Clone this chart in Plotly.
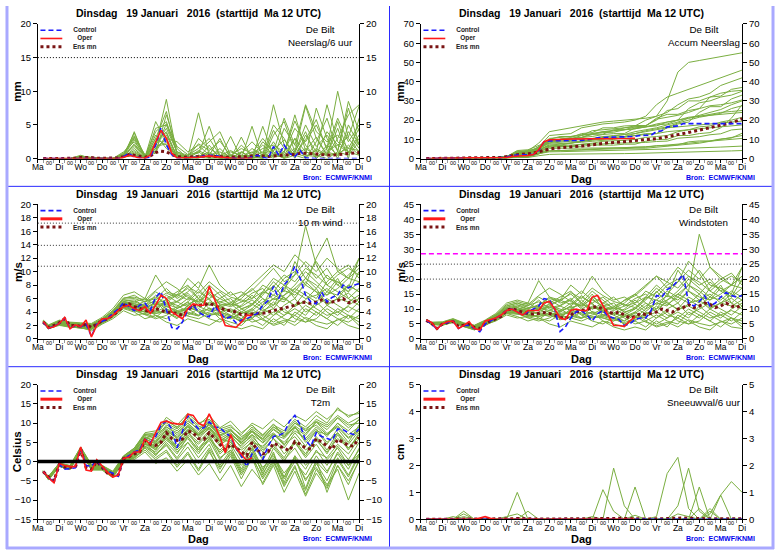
import plotly.graph_objects as go

W, H = 778, 554
FONT = 'Liberation Sans, Arial, sans-serif'

# time axis: forecast hours after Ma 12 UTC
HOURS = list(range(6, 361, 6))
OPER_HOURS = HOURS[:40]
MEMBER_HOURS = [6] + list(range(12, 361, 12))
DAY_TICKS = list(range(0, 361, 24))
DAY_NAMES = ['Ma', 'Di', 'Wo', 'Do', 'Vr', 'Za', 'Zo', 'Ma', 'Di', 'Wo', 'Do', 'Vr', 'Za', 'Zo', 'Ma', 'Di']
MIDNIGHTS = list(range(12, 360, 24))
SIX_HOURLY = list(range(6, 360, 12))

TITLE = 'Dinsdag\u00a0\u00a0 19 Januari\u00a0\u00a0 2016\u00a0 (starttijd\u00a0 Ma 12 UTC)'

# ---------------- Neerslag/6 uur ----------------
PRECIP_CONTROL = [0, 0, 0, 0, 0, 0, 0, 0.1, 0.1, 0.1, 0, 0, 0, 0, 0, 0.3, 0.8, 0.2, 0.1, 0.1,
                  0.2, 2.0, 4.6, 2.0, 0.6, 0.1, 0.1, 0.1, 0.2, 0.2, 0.4, 0.5, 0.5, 0.3, 0.1, 0.1, 0, 0, 0, 0.2,
                  0.5, 0.2, 0, 1.8, 0.5, 2.0, 0.8, 0.3, 1.2, 0.1, 0, 0, 0, 0, 0, 0, 0, 0, 0, 0]
PRECIP_OPER = [0, 0, 0, 0, 0, 0, 0, 0.1, 0.1, 0.1, 0, 0, 0, 0, 0, 0.2, 0.5, 0.3, 0.1, 0.1,
               0.5, 2.5, 4.2, 3.0, 0.8, 0.1, 0.1, 0.1, 0.1, 0.2, 0.3, 0.4, 0.3, 0.2, 0.1, 0.1, 0, 0, 0, 0.1]
PRECIP_MEAN = [0, 0, 0, 0, 0, 0, 0.05, 0.15, 0.2, 0.15, 0.05, 0.05, 0.05, 0.05, 0.1, 0.3, 0.6, 0.5, 0.3, 0.2,
               0.4, 0.9, 1.1, 1.0, 0.6, 0.3, 0.2, 0.2, 0.3, 0.3, 0.4, 0.4, 0.4, 0.3, 0.2, 0.2, 0.2, 0.2, 0.3, 0.4,
               0.5, 0.4, 0.3, 0.4, 0.5, 0.5, 0.6, 0.6, 0.8, 0.8, 0.8, 0.7, 0.6, 0.5, 0.5, 0.6, 0.7, 0.8, 0.8, 0.9]
PRECIP_MEMBERS = [
    [0, 0, 0, 0, 0.3, 0, 0, 0, 0.5, 3.8, 0.3, 2.0, 8.8, 0.5, 0, 0.3, 1.0, 0, 0.2, 0, 0.5, 0, 1.5, 0.5, 3.0, 1.0, 0.5, 4.0, 2.0, 1.0, 3.5],
    [0, 0, 0, 0, 0.1, 0, 0, 0, 0.2, 1.5, 0.1, 4.5, 5.0, 1.0, 0.2, 6.8, 0.5, 0.2, 0, 1.0, 0, 0.5, 8.0, 2.0, 0.5, 0, 2.5, 6.0, 1.0, 8.5, 4.0],
    [0, 0, 0, 0, 0.4, 0.1, 0, 0, 1.0, 2.5, 0.5, 1.0, 3.5, 0.3, 0.5, 1.5, 3.0, 0.5, 0, 3.2, 0, 4.8, 0.5, 1.0, 5.6, 2.0, 0, 1.5, 10.0, 3.0, 1.0],
    [0, 0, 0, 0, 0.2, 0, 0, 0, 0.3, 0.8, 0.2, 5.5, 2.5, 0.2, 0, 0.5, 0.2, 1.5, 0, 0, 4.8, 0, 2.5, 0, 1.0, 7.8, 3.0, 0.5, 4.5, 0, 6.0],
    [0, 0, 0, 0, 0, 0, 0, 0, 0.1, 4.0, 0, 3.0, 2.0, 0.5, 0.3, 0, 2.0, 0, 1.0, 0.5, 0.3, 1.0, 0, 4.5, 2.0, 0.5, 7.5, 3.0, 0, 5.0, 2.0],
    [0, 0, 0, 0, 0.3, 0.2, 0, 0, 0.6, 2.0, 0.4, 0.8, 6.5, 1.5, 0, 1.0, 0, 0.2, 3.3, 0, 1.5, 0.5, 5.0, 3.0, 0, 3.5, 1.0, 8.0, 2.5, 1.0, 0.5],
    [0, 0, 0, 0, 0.1, 0, 0, 0, 0.2, 1.0, 0.1, 2.5, 4.0, 0.2, 0.2, 0, 0.8, 0, 0, 0.5, 0, 2.5, 1.0, 0, 3.0, 0, 1.5, 0.5, 3.0, 6.5, 8.0],
    [0, 0, 0, 0, 0.2, 0.1, 0, 0, 0.8, 3.0, 0.6, 1.5, 3.0, 2.5, 1.0, 2.0, 0.5, 3.0, 0, 1.0, 0.2, 0, 3.5, 5.5, 1.0, 4.0, 0, 2.0, 0.5, 4.0, 1.5],
    [0, 0, 0, 0, 0.5, 0, 0, 0, 0.4, 1.8, 0.2, 3.5, 1.5, 0.3, 0, 0.5, 0.3, 0, 0.5, 0, 0, 0.3, 0.5, 0.2, 1.5, 0.5, 0.3, 1.0, 0.5, 2.0, 0.5],
    [0, 0, 0, 0, 0.2, 0, 0, 0, 0.3, 2.2, 0.3, 4.0, 5.5, 0.8, 0.2, 3.0, 1.5, 0.5, 0.2, 2.0, 0.5, 1.5, 2.0, 1.0, 4.5, 2.5, 5.0, 1.5, 6.0, 2.5, 5.0],
    [0, 0, 0, 0, 0.1, 0, 0, 0, 0.2, 0.5, 0, 1.5, 3.0, 0.1, 0, 0.2, 0, 0, 0, 0, 0.3, 0, 0.8, 0, 0.5, 1.5, 0.5, 0, 1.0, 0.5, 2.5],
    [0, 0, 0, 0, 0.3, 0.1, 0, 0, 0.6, 3.2, 0.4, 2.0, 4.5, 1.0, 0.5, 1.0, 2.5, 4.0, 0.5, 1.5, 0.8, 3.0, 1.0, 6.0, 2.0, 8.0, 4.0, 2.5, 3.5, 1.5, 4.5],
    [0, 0, 0, 0, 0.2, 0, 0, 0, 0.4, 2.8, 0.2, 3.0, 7.0, 0.6, 0.1, 1.2, 0.4, 1.0, 0.2, 0.8, 2.5, 0.8, 1.2, 2.8, 0.8, 5.0, 1.8, 3.5, 1.2, 7.5, 2.0],
    [0, 0, 0, 0, 0.1, 0, 0, 0, 0.3, 1.2, 0.2, 2.2, 3.8, 0.4, 0.3, 2.2, 1.2, 2.6, 0.4, 0.2, 0.6, 2.0, 0.6, 0.8, 6.5, 1.2, 3.2, 0.6, 5.5, 0.8, 3.0],
    [0, 0, 0, 0, 0.3, 0.1, 0, 0, 0.7, 3.4, 0.5, 1.2, 5.2, 1.8, 0.6, 0.8, 4.8, 0.4, 1.2, 0.3, 1.0, 0.2, 4.2, 1.5, 0.6, 2.8, 5.8, 1.2, 2.0, 3.2, 7.8],
    [0, 0, 0, 0, 0.2, 0, 0, 0, 0.2, 0.6, 0.1, 1.8, 2.2, 0.2, 0, 0.4, 0.2, 0.5, 0, 0.2, 0, 0.6, 0.3, 0.4, 0.8, 0.3, 1.2, 0.4, 0.8, 1.5, 1.2],
]

# ---------------- Accum Neerslag ----------------
ACCUM_CONTROL = [0, 0, 0, 0, 0, 0, 0.1, 0.3, 0.4, 0.4, 0.5, 0.5, 0.5, 0.5, 0.5, 0.8, 1.6, 1.8, 1.9, 2.0,
                 2.2, 4.2, 8.8, 9.2, 9.2, 9.2, 9.2, 9.3, 9.4, 9.5, 9.8, 10.5, 10.8, 11.0, 11.2, 11.3, 11.3, 11.3, 11.4, 11.6,
                 12.0, 12.2, 12.2, 14.0, 14.5, 16.5, 16.8, 17.0, 18.2, 18.2, 18.2, 18.2, 18.2, 18.2, 18.2, 18.2, 18.2, 18.2, 18.2, 18.2]
ACCUM_OPER = [0, 0, 0, 0, 0, 0, 0.1, 0.3, 0.4, 0.4, 0.4, 0.4, 0.4, 0.4, 0.4, 0.6, 1.1, 1.4, 1.5, 1.6,
              2.1, 4.6, 8.8, 9.8, 10.0, 10.1, 10.1, 10.2, 10.2, 10.3, 10.4, 10.4, 10.5, 10.5, 10.5, 10.5, 10.5, 10.5, 10.5, 10.6]
ACCUM_MEAN = [0, 0, 0, 0, 0, 0, 0.1, 0.3, 0.4, 0.5, 0.5, 0.5, 0.5, 0.6, 0.6, 0.9, 1.5, 2.0, 2.2, 2.4,
              2.8, 3.6, 4.5, 5.0, 5.4, 5.6, 5.8, 6.0, 6.2, 6.5, 6.8, 7.2, 7.6, 7.9, 8.2, 8.4, 8.6, 8.8, 9.0, 9.3,
              9.6, 9.8, 10.0, 10.3, 10.8, 11.3, 11.8, 12.4, 13.0, 13.6, 14.2, 14.8, 15.4, 16.0, 16.6, 17.2, 17.8, 18.6, 19.6, 20.8]
ACCUM_MEMBERS = [
    [0, 0, 0, 0, 0.4, 0.5, 0.5, 0.5, 1.0, 3.0, 4.0, 8.0, 14.0, 15.0, 16.0, 17.0, 18.0, 19.0, 19.5, 20.0, 20.5, 21.0, 22.0, 30.0, 45.0, 50.0, 51.0, 52.0, 53.0, 54.0, 55.0],
    [0, 0, 0, 0, 0.3, 0.4, 0.4, 0.4, 0.8, 2.5, 3.0, 6.0, 12.0, 12.5, 13.0, 16.0, 17.0, 18.0, 18.5, 19.0, 20.0, 22.0, 28.0, 32.0, 34.0, 36.0, 38.0, 40.0, 42.0, 44.0, 46.0],
    [0, 0, 0, 0, 0.5, 0.6, 0.6, 0.6, 1.2, 3.5, 4.0, 5.0, 9.0, 10.0, 10.5, 11.0, 13.0, 14.0, 14.5, 16.0, 17.0, 20.0, 22.0, 24.0, 28.0, 31.0, 32.0, 34.0, 38.0, 40.0, 42.0],
    [0, 0, 0, 0, 0.2, 0.3, 0.3, 0.3, 0.6, 1.0, 1.5, 6.0, 9.0, 9.5, 10.0, 11.0, 11.5, 12.5, 13.0, 13.0, 16.0, 16.5, 18.0, 19.0, 20.0, 26.0, 29.0, 30.0, 32.0, 33.0, 35.0],
    [0, 0, 0, 0, 0.1, 0.1, 0.1, 0.1, 0.3, 3.5, 3.5, 6.0, 8.0, 8.5, 9.0, 9.0, 10.0, 10.0, 11.0, 11.5, 12.0, 13.0, 13.0, 16.0, 18.0, 19.0, 24.0, 27.0, 27.0, 31.0, 33.0],
    [0, 0, 0, 0, 0.4, 0.6, 0.6, 0.6, 1.2, 3.0, 3.5, 4.5, 10.0, 11.5, 11.5, 12.5, 12.5, 12.7, 15.0, 15.0, 16.5, 17.0, 21.0, 23.0, 23.0, 25.0, 26.0, 32.0, 34.0, 35.0, 35.5],
    [0, 0, 0, 0, 0.1, 0.1, 0.1, 0.1, 0.3, 1.0, 1.2, 3.0, 6.0, 6.2, 6.4, 6.4, 7.0, 7.0, 7.0, 7.5, 7.5, 9.0, 10.0, 10.0, 12.0, 12.0, 13.0, 13.5, 16.0, 21.0, 28.0],
    [0, 0, 0, 0, 0.3, 0.4, 0.4, 0.4, 1.0, 3.0, 3.5, 5.0, 8.0, 10.0, 11.0, 13.0, 13.5, 16.0, 16.0, 17.0, 17.2, 17.2, 20.0, 25.0, 26.0, 30.0, 30.0, 32.0, 32.5, 36.0, 37.0],
    [0, 0, 0, 0, 0.5, 0.5, 0.5, 0.5, 0.9, 2.0, 2.2, 5.0, 6.5, 6.8, 6.8, 7.3, 7.6, 7.6, 8.1, 8.1, 8.1, 8.4, 8.9, 9.1, 10.6, 11.1, 11.4, 12.4, 12.9, 14.9, 15.4],
    [0, 0, 0, 0, 0.2, 0.2, 0.2, 0.2, 0.5, 2.5, 2.8, 6.0, 9.5, 10.0, 10.2, 12.0, 13.0, 13.5, 13.7, 15.0, 15.5, 16.5, 17.5, 18.0, 20.0, 21.0, 22.0, 23.0, 24.0, 24.5, 25.0],
    [0, 0, 0, 0, 0.1, 0.1, 0.1, 0.1, 0.3, 0.8, 0.8, 2.3, 5.3, 5.4, 5.4, 5.6, 5.6, 5.6, 5.6, 5.6, 5.9, 5.9, 6.7, 6.7, 7.2, 8.7, 9.2, 9.2, 10.2, 10.7, 13.2],
    [0, 0, 0, 0, 0.3, 0.4, 0.4, 0.4, 1.0, 4.2, 4.6, 6.6, 9.0, 10.0, 10.5, 11.0, 12.5, 14.0, 14.5, 15.0, 15.5, 16.5, 17.0, 19.0, 20.0, 21.5, 22.0, 22.5, 23.0, 23.5, 24.0],
    [0, 0, 0, 0, 0.2, 0.2, 0.2, 0.2, 0.4, 1.5, 1.6, 2.5, 3.5, 3.6, 3.7, 3.8, 4.0, 4.0, 4.2, 4.2, 4.3, 4.5, 4.8, 5.0, 5.2, 5.5, 5.6, 5.8, 6.0, 6.2, 6.5],
    [0, 0, 0, 0, 0.2, 0.3, 0.3, 0.3, 0.5, 1.2, 1.4, 3.0, 4.0, 4.2, 4.3, 4.5, 4.8, 5.0, 5.0, 5.2, 5.4, 5.4, 6.0, 6.5, 7.0, 7.5, 8.0, 9.0, 10.0, 11.0, 12.0],
    [0, 0, 0, 0, 0.1, 0.1, 0.1, 0.1, 0.2, 0.5, 0.6, 1.5, 2.2, 2.3, 2.3, 2.4, 2.5, 2.5, 2.6, 2.6, 2.7, 2.8, 3.0, 3.1, 3.2, 3.4, 3.5, 3.6, 3.8, 4.0, 4.2],
    [0, 0, 0, 0, 0.3, 0.4, 0.4, 0.4, 0.8, 2.8, 3.0, 4.5, 7.0, 7.5, 8.0, 9.0, 10.0, 11.0, 12.0, 12.5, 13.0, 14.0, 15.0, 16.0, 16.5, 17.0, 17.5, 18.0, 18.5, 19.0, 19.5],
    [0, 0, 0, 0, 0.3, 0.3, 0.3, 0.3, 0.7, 2.5, 2.8, 5.0, 8.5, 9.0, 9.2, 10.0, 10.5, 11.5, 11.8, 12.5, 14.0, 15.0, 16.0, 17.5, 19.0, 21.0, 22.5, 24.0, 25.5, 28.0, 30.0],
    [0, 0, 0, 0, 0.2, 0.2, 0.2, 0.2, 0.5, 1.5, 1.7, 3.5, 6.0, 6.3, 6.5, 7.5, 8.0, 9.0, 9.2, 9.5, 10.0, 11.0, 11.5, 12.0, 14.0, 15.0, 16.5, 17.0, 19.0, 20.0, 21.5],
    [0, 0, 0, 0, 0.4, 0.5, 0.5, 0.5, 1.1, 3.8, 4.2, 5.5, 10.5, 11.0, 11.5, 12.0, 14.5, 15.0, 15.5, 15.8, 16.5, 17.0, 20.5, 21.5, 22.5, 24.0, 26.0, 27.5, 28.0, 29.0, 30.5],
    [0, 0, 0, 0, 0.1, 0.1, 0.1, 0.1, 0.3, 0.9, 1.0, 2.5, 4.0, 4.2, 4.3, 4.6, 5.0, 5.2, 5.3, 5.5, 5.8, 6.2, 6.6, 7.0, 7.6, 8.0, 8.6, 9.0, 9.6, 10.0, 10.5],
    [0, 0, 0, 0, 0.2, 0.2, 0.2, 0.2, 0.6, 2.0, 2.2, 4.0, 7.5, 7.8, 8.0, 8.5, 9.0, 9.5, 10.0, 11.0, 12.0, 12.5, 13.0, 14.0, 14.5, 15.0, 15.5, 16.0, 16.5, 17.0, 17.5],
    [0, 0, 0, 0, 0.3, 0.3, 0.3, 0.3, 0.8, 3.0, 3.2, 4.0, 6.5, 7.0, 8.0, 9.0, 9.5, 10.5, 11.0, 11.5, 13.0, 14.5, 15.5, 16.5, 18.5, 20.0, 21.5, 22.5, 23.5, 26.0, 27.5],
]

# ---------------- 10 m wind ----------------
WIND_CONTROL = [2.5, 1.6, 1.9, 2.3, 3.1, 1.6, 2.0, 1.8, 2.2, 0.4, 2.2, 2.6, 3.0, 3.8, 4.4, 5.4, 4.8, 4.2, 5.0, 5.3,
                4.3, 6.2, 7.0, 4.2, 1.7, 1.5, 2.5, 4.3, 5.0, 4.0, 3.5, 3.3, 4.8, 4.0, 3.0, 3.3, 2.4, 2.8, 3.0, 3.4,
                3.8, 5.0, 5.7, 7.8, 6.0, 8.0, 9.0, 10.8, 9.0, 6.5, 5.5, 5.2, 7.0, 5.5, 6.2, 6.5, 8.0, 7.6, 8.0, 8.2]
WIND_OPER = [2.6, 1.6, 1.8, 2.3, 3.2, 1.5, 2.1, 1.8, 2.8, 0.3, 2.0, 3.0, 3.0, 3.5, 4.2, 4.8, 5.0, 4.5, 4.2, 4.8,
             3.8, 5.0, 6.5, 6.0, 4.0, 3.5, 3.0, 4.5, 5.2, 5.0, 5.0, 7.8, 6.0, 4.0, 2.0, 1.8, 1.7, 2.5, 3.5, 3.5]
WIND_MEAN = [2.5, 1.7, 2.0, 2.4, 3.0, 2.0, 2.0, 1.9, 2.2, 1.7, 2.2, 2.7, 3.0, 3.6, 4.1, 5.0, 5.2, 4.8, 4.5, 4.3,
             4.0, 4.5, 4.2, 4.0, 3.9, 3.8, 3.5, 4.3, 5.0, 5.0, 5.0, 5.3, 5.0, 4.6, 4.3, 4.2, 4.0, 3.6, 3.6, 3.7,
             3.8, 3.8, 4.0, 4.2, 4.5, 4.7, 4.8, 5.0, 5.5, 5.4, 5.3, 5.5, 5.8, 5.5, 5.5, 5.7, 6.0, 5.4, 5.5, 6.0]
WIND_MEMBERS = [
    [2.6, 1.8, 2.5, 2.2, 2.0, 1.8, 2.8, 3.8, 5.5, 5.0, 4.5, 5.5, 4.0, 3.0, 5.0, 6.0, 4.5, 3.5, 3.0, 4.0, 5.0, 7.0, 9.0, 8.0, 6.0, 8.5, 7.0, 5.0, 6.0, 8.0, 7.0],
    [2.4, 1.5, 2.2, 1.9, 1.7, 1.5, 2.4, 3.4, 4.8, 4.2, 3.5, 3.0, 3.5, 4.5, 5.5, 4.0, 3.0, 2.5, 3.5, 2.5, 3.0, 2.0, 3.5, 4.5, 3.0, 2.5, 4.0, 3.0, 2.0, 3.5, 2.5],
    [2.7, 2.0, 2.7, 2.4, 2.3, 2.2, 3.0, 4.2, 6.0, 6.5, 5.5, 6.0, 7.5, 6.0, 7.0, 8.5, 6.5, 5.5, 5.0, 6.5, 8.0, 9.5, 11.0, 10.0, 12.5, 11.0, 9.0, 10.5, 8.0, 9.5, 11.0],
    [2.5, 1.7, 2.3, 2.1, 1.8, 1.6, 2.6, 3.6, 5.0, 4.5, 4.0, 4.5, 5.5, 5.0, 4.0, 3.5, 5.5, 4.5, 4.0, 3.0, 4.5, 6.0, 5.0, 7.5, 9.5, 16.8, 11.0, 8.0, 7.0, 6.0, 5.0],
    [2.3, 1.6, 2.0, 1.8, 1.6, 1.4, 2.3, 3.2, 4.5, 4.0, 3.0, 3.5, 2.5, 2.0, 3.0, 2.5, 2.0, 3.0, 2.0, 1.5, 2.0, 1.5, 3.0, 2.0, 4.0, 3.0, 2.0, 1.5, 3.0, 2.0, 1.5],
    [2.6, 1.9, 2.6, 2.3, 2.1, 2.0, 2.9, 4.0, 5.8, 5.5, 5.0, 4.0, 6.0, 7.0, 8.0, 6.0, 5.0, 6.0, 7.0, 5.5, 6.0, 8.0, 7.0, 9.0, 10.0, 8.0, 12.0, 15.0, 10.0, 9.0, 8.5],
    [2.5, 1.7, 2.4, 2.0, 1.9, 1.8, 2.7, 3.7, 5.2, 4.8, 5.0, 6.5, 5.0, 4.0, 3.5, 4.5, 3.5, 4.0, 4.5, 3.5, 2.5, 3.0, 4.0, 3.0, 2.5, 4.5, 3.5, 5.0, 4.0, 3.0, 4.5],
    [2.8, 2.1, 2.8, 2.5, 2.4, 2.3, 3.2, 4.5, 6.5, 7.0, 6.0, 9.5, 7.0, 6.5, 9.0, 7.5, 11.0, 8.0, 6.5, 7.0, 6.0, 7.0, 6.5, 8.0, 7.0, 9.0, 8.0, 6.5, 7.5, 9.0, 12.0],
    [2.4, 1.6, 2.1, 1.7, 1.7, 1.2, 2.2, 3.0, 4.2, 3.5, 3.8, 3.2, 4.5, 3.5, 5.0, 4.0, 4.5, 3.0, 2.5, 2.0, 3.5, 5.0, 6.0, 5.5, 7.5, 6.5, 5.5, 7.0, 9.0, 6.0, 7.5],
    [2.6, 1.8, 2.5, 2.1, 2.0, 1.7, 2.8, 3.9, 5.6, 5.2, 4.2, 5.0, 6.5, 5.5, 6.5, 5.0, 6.0, 7.0, 5.5, 4.5, 3.5, 4.0, 5.5, 4.0, 3.5, 2.5, 3.0, 4.5, 3.5, 5.0, 6.0],
    [2.5, 1.8, 2.4, 2.2, 1.9, 1.9, 2.7, 3.5, 5.0, 4.6, 4.8, 4.2, 3.8, 4.8, 6.0, 5.5, 7.5, 5.0, 4.0, 5.0, 6.5, 5.0, 8.0, 6.0, 5.0, 7.0, 6.0, 8.5, 10.0, 11.0, 9.0],
    [2.7, 1.9, 2.6, 2.3, 2.2, 2.1, 2.9, 4.1, 5.9, 6.0, 5.5, 7.0, 6.0, 4.5, 5.5, 7.0, 6.0, 4.0, 3.5, 3.0, 4.0, 3.5, 2.5, 3.5, 4.5, 3.5, 5.5, 4.0, 3.0, 2.5, 3.5],
    [2.3, 1.5, 2.1, 1.8, 1.6, 1.5, 2.4, 3.3, 4.6, 4.2, 4.0, 3.8, 4.2, 3.8, 3.5, 3.0, 3.8, 3.5, 3.0, 3.8, 4.5, 3.0, 2.0, 2.5, 3.5, 5.0, 4.0, 3.0, 4.5, 3.5, 2.0],
    [2.6, 1.8, 2.5, 2.2, 2.0, 1.9, 2.8, 3.9, 5.4, 5.0, 4.6, 5.2, 4.8, 5.5, 4.8, 6.5, 5.0, 5.5, 6.0, 4.5, 5.0, 6.5, 8.5, 7.0, 11.5, 9.0, 7.5, 9.5, 8.0, 7.0, 8.5],
    [2.4, 1.7, 2.3, 2.0, 1.8, 1.6, 2.5, 3.5, 4.9, 4.3, 4.5, 3.5, 3.0, 4.0, 4.5, 3.5, 4.0, 4.5, 3.5, 2.5, 3.0, 4.5, 3.5, 5.0, 6.0, 4.0, 5.0, 6.0, 5.0, 4.0, 5.5],
    [2.5, 1.8, 2.4, 2.1, 2.0, 1.8, 2.7, 3.8, 5.3, 5.5, 6.0, 5.0, 5.5, 6.5, 7.5, 6.0, 8.0, 6.5, 5.0, 6.0, 7.5, 6.0, 4.5, 6.5, 8.0, 10.0, 8.5, 7.0, 6.5, 8.0, 7.0],
    [2.5, 1.7, 2.3, 2.0, 1.9, 1.7, 2.6, 3.7, 5.1, 4.7, 4.3, 4.8, 5.2, 4.6, 5.2, 5.8, 5.2, 4.8, 4.2, 3.8, 4.2, 5.5, 6.5, 5.8, 7.0, 6.0, 6.5, 7.5, 6.0, 5.5, 6.5],
    [2.6, 1.9, 2.6, 2.3, 2.1, 2.0, 2.9, 4.0, 5.6, 5.8, 4.8, 5.8, 6.8, 6.2, 7.8, 6.8, 8.5, 7.2, 6.2, 5.8, 5.2, 6.8, 7.8, 9.5, 8.5, 10.5, 9.5, 8.0, 9.5, 10.5, 9.5],
    [2.4, 1.6, 2.2, 1.8, 1.8, 1.5, 2.4, 3.4, 4.7, 4.4, 3.6, 4.0, 4.8, 4.2, 4.6, 4.2, 3.5, 3.8, 3.2, 2.8, 3.2, 3.8, 4.5, 3.5, 5.0, 5.5, 4.5, 3.5, 4.0, 4.8, 4.0],
    [2.7, 2.0, 2.7, 2.4, 2.2, 2.1, 3.0, 4.2, 6.1, 6.2, 5.8, 7.2, 8.5, 7.5, 6.2, 5.5, 6.8, 5.2, 4.8, 5.5, 6.8, 7.5, 5.8, 6.5, 7.5, 9.0, 11.5, 9.0, 8.5, 7.0, 10.0],
    [2.5, 1.8, 2.4, 2.1, 1.9, 1.8, 2.7, 3.8, 5.3, 5.0, 5.2, 5.6, 4.4, 4.0, 4.4, 4.8, 4.2, 5.0, 5.2, 4.0, 3.8, 2.8, 2.2, 2.8, 2.0, 3.2, 2.6, 2.2, 2.8, 3.5, 3.0],
    [2.6, 1.8, 2.5, 2.2, 2.0, 1.9, 2.8, 3.9, 5.5, 5.3, 4.7, 5.3, 5.8, 6.6, 5.8, 7.4, 5.8, 4.6, 5.4, 6.4, 7.2, 8.8, 10.5, 8.5, 9.5, 11.5, 10.0, 12.0, 10.5, 9.0, 10.5],
    [2.4, 1.7, 2.2, 1.9, 1.8, 1.6, 2.5, 3.5, 4.9, 4.6, 4.0, 3.8, 4.0, 3.2, 3.8, 3.4, 4.6, 4.0, 3.4, 4.4, 5.2, 4.2, 5.0, 6.2, 4.8, 5.8, 7.5, 5.2, 6.0, 6.8, 5.5],
    [2.5, 1.7, 2.3, 2.0, 1.9, 1.7, 2.6, 3.6, 5.0, 4.9, 5.6, 6.2, 5.2, 5.6, 6.8, 5.2, 7.0, 6.0, 5.2, 4.8, 5.8, 4.6, 6.0, 7.2, 6.5, 8.0, 7.0, 6.5, 8.5, 7.5, 12.0],
]

# ---------------- Windstoten ----------------
GUST_CONTROL = [6.3, 5.0, 3.3, 5.0, 5.5, 6.0, 3.5, 4.5, 4.5, 3.5, 2.4, 5.0, 6.0, 7.0, 8.0, 9.5, 10.0, 9.0, 8.0, 9.0,
                10.0, 11.0, 13.5, 13.0, 10.0, 2.5, 4.0, 7.0, 9.0, 9.5, 8.0, 6.0, 8.5, 9.5, 7.5, 7.0, 6.5, 4.5, 5.0, 6.5,
                7.0, 7.0, 9.5, 14.5, 14.0, 16.5, 17.5, 19.5, 21.5, 12.0, 11.0, 12.5, 14.5, 11.0, 12.0, 14.0, 15.5, 14.5, 14.0, 14.5]
GUST_OPER = [6.3, 5.5, 3.3, 5.0, 5.8, 6.0, 3.5, 4.5, 5.8, 3.5, 3.0, 6.0, 6.5, 7.0, 8.0, 9.5, 10.0, 9.0, 8.0, 9.5,
             9.5, 9.5, 12.0, 12.5, 10.0, 7.0, 6.5, 9.5, 10.0, 9.5, 9.5, 14.0, 14.5, 11.0, 8.0, 4.5, 4.5, 4.2, 6.0, 7.5]
GUST_MEAN = [6.2, 5.2, 3.5, 5.0, 5.5, 5.8, 4.2, 4.5, 5.0, 3.8, 3.5, 5.2, 6.0, 6.8, 7.5, 9.5, 10.2, 9.5, 9.0, 8.5,
             8.3, 8.5, 8.8, 8.5, 8.0, 7.2, 6.8, 8.0, 9.0, 9.5, 9.8, 10.5, 10.8, 10.0, 9.0, 8.5, 9.0, 8.0, 7.0, 7.5,
             8.5, 8.2, 8.5, 9.0, 10.0, 9.5, 9.0, 10.0, 10.5, 11.5, 10.5, 11.0, 12.0, 11.5, 10.5, 11.0, 12.0, 11.0, 10.5, 11.5]
GUST_MEMBERS = [
    [6.2, 5.2, 5.2, 6.2, 4.8, 4.0, 5.5, 7.5, 10.0, 10.5, 9.0, 10.0, 8.0, 7.0, 10.0, 12.0, 9.0, 7.0, 6.0, 8.0, 10.0, 14.0, 18.0, 15.0, 12.0, 16.0, 13.0, 10.0, 12.0, 15.0, 13.0],
    [6.0, 4.8, 4.8, 5.8, 4.2, 3.2, 4.5, 6.5, 9.0, 8.5, 7.0, 6.0, 7.0, 9.0, 11.0, 8.0, 6.0, 5.0, 7.0, 5.0, 6.0, 4.0, 7.0, 9.0, 6.0, 5.0, 8.0, 6.0, 4.0, 7.0, 5.0],
    [6.4, 5.5, 5.5, 6.6, 5.2, 4.5, 6.0, 8.0, 11.0, 12.0, 10.5, 11.0, 14.0, 12.0, 13.0, 16.0, 13.0, 11.0, 10.0, 13.0, 15.0, 18.0, 21.0, 19.0, 24.0, 21.0, 18.0, 20.0, 16.0, 18.0, 21.0],
    [6.3, 5.1, 5.0, 6.0, 4.6, 3.6, 5.2, 7.0, 9.5, 9.0, 8.0, 9.0, 11.0, 10.0, 8.0, 7.0, 11.0, 9.0, 8.0, 6.0, 9.0, 12.0, 10.0, 15.0, 19.0, 26.0, 22.0, 16.0, 14.0, 12.0, 10.0],
    [6.1, 5.0, 4.6, 5.6, 4.2, 3.0, 4.6, 6.2, 8.5, 7.5, 6.0, 7.0, 5.0, 4.0, 6.0, 5.0, 4.0, 6.0, 4.0, 3.0, 4.0, 3.0, 6.0, 4.0, 8.0, 6.0, 4.0, 3.0, 6.0, 4.0, 3.5],
    [6.4, 5.3, 5.3, 6.3, 5.0, 4.2, 5.8, 7.8, 10.5, 11.0, 10.0, 8.0, 12.0, 14.0, 16.0, 12.0, 10.0, 12.0, 14.0, 11.0, 12.0, 16.0, 14.0, 18.0, 20.0, 16.0, 35.0, 24.0, 20.0, 18.0, 17.0],
    [6.2, 5.1, 5.1, 6.0, 4.7, 3.8, 5.3, 7.2, 9.8, 9.5, 10.0, 13.0, 10.0, 8.0, 7.0, 9.0, 7.0, 8.0, 9.0, 7.0, 5.0, 6.0, 8.0, 6.0, 5.0, 9.0, 7.0, 10.0, 8.0, 6.0, 9.0],
    [6.5, 5.6, 5.7, 6.8, 5.4, 4.6, 6.3, 8.5, 12.0, 13.0, 12.0, 19.5, 14.0, 13.0, 18.0, 15.0, 21.0, 16.0, 13.0, 14.0, 12.0, 14.0, 13.0, 16.0, 14.0, 18.0, 16.0, 13.0, 15.0, 18.0, 24.0],
    [6.1, 4.9, 4.7, 5.7, 4.3, 3.3, 4.8, 6.0, 8.0, 7.0, 7.5, 6.5, 9.0, 7.0, 10.0, 8.0, 9.0, 6.0, 5.0, 4.0, 7.0, 10.0, 12.0, 11.0, 15.0, 13.0, 11.0, 14.0, 18.0, 12.0, 15.0],
    [6.3, 5.2, 5.2, 6.1, 4.8, 3.7, 5.5, 7.5, 10.2, 10.0, 8.5, 10.0, 13.0, 11.0, 13.0, 10.0, 12.0, 14.0, 11.0, 9.0, 7.0, 8.0, 11.0, 8.0, 7.0, 5.0, 6.0, 9.0, 7.0, 10.0, 12.0],
    [6.2, 5.2, 5.0, 6.2, 4.6, 3.9, 5.3, 6.8, 9.5, 9.2, 9.5, 8.5, 7.5, 9.5, 12.0, 11.0, 15.0, 10.0, 8.0, 10.0, 13.0, 10.0, 16.0, 12.0, 10.0, 14.0, 12.0, 17.0, 20.0, 22.0, 18.0],
    [6.4, 5.4, 5.4, 6.4, 5.1, 4.3, 5.9, 7.9, 11.0, 12.0, 11.0, 14.0, 12.0, 9.0, 11.0, 14.0, 12.0, 8.0, 7.0, 6.0, 8.0, 7.0, 5.0, 7.0, 9.0, 7.0, 11.0, 8.0, 6.0, 5.0, 7.0],
    [6.0, 4.8, 4.6, 5.5, 4.1, 3.1, 4.6, 6.4, 8.6, 8.2, 8.0, 7.5, 8.5, 7.5, 7.0, 6.0, 7.5, 7.0, 6.0, 7.5, 9.0, 6.0, 4.0, 5.0, 7.0, 10.0, 8.0, 6.0, 9.0, 7.0, 4.0],
    [6.3, 5.2, 5.1, 6.1, 4.7, 3.8, 5.4, 7.4, 10.0, 10.0, 9.2, 10.5, 9.5, 11.0, 9.5, 13.0, 10.0, 11.0, 12.0, 9.0, 10.0, 13.0, 17.0, 14.0, 23.0, 18.0, 15.0, 19.0, 16.0, 14.0, 17.0],
    [6.1, 5.0, 4.8, 5.9, 4.4, 3.4, 5.0, 6.6, 9.2, 8.6, 9.0, 7.0, 6.0, 8.0, 9.0, 7.0, 8.0, 9.0, 7.0, 5.0, 6.0, 9.0, 7.0, 10.0, 12.0, 8.0, 10.0, 12.0, 10.0, 8.0, 11.0],
    [6.2, 5.1, 5.0, 6.0, 4.6, 3.7, 5.3, 7.1, 9.7, 11.0, 12.0, 10.0, 11.0, 13.0, 15.0, 12.0, 16.0, 13.0, 10.0, 12.0, 15.0, 12.0, 9.0, 13.0, 16.0, 20.0, 17.0, 14.0, 13.0, 16.0, 14.0],
    [6.2, 5.2, 5.0, 6.0, 4.6, 3.8, 5.3, 7.2, 9.8, 9.6, 9.0, 9.8, 10.5, 9.5, 10.5, 11.5, 10.5, 9.5, 8.5, 7.5, 8.5, 11.0, 13.0, 11.5, 14.0, 12.0, 13.0, 15.0, 12.0, 11.0, 13.0],
    [6.3, 5.4, 5.3, 6.4, 5.0, 4.2, 5.7, 7.8, 10.6, 11.5, 10.0, 11.5, 13.5, 12.5, 15.5, 13.5, 17.0, 14.5, 12.5, 11.5, 10.5, 13.5, 15.5, 19.0, 17.0, 21.0, 19.0, 16.0, 19.0, 21.0, 19.0],
    [6.1, 4.9, 4.8, 5.7, 4.4, 3.3, 4.8, 6.6, 8.9, 8.6, 7.2, 8.0, 9.5, 8.5, 9.2, 8.5, 7.0, 7.5, 6.5, 5.5, 6.5, 7.5, 9.0, 7.0, 10.0, 11.0, 9.0, 7.0, 8.0, 9.5, 8.0],
    [6.4, 5.5, 5.6, 6.6, 5.2, 4.4, 6.1, 8.2, 11.5, 12.5, 11.5, 14.5, 17.0, 15.0, 12.5, 11.0, 13.5, 10.5, 9.5, 11.0, 13.5, 15.0, 11.5, 13.0, 15.0, 18.0, 23.0, 18.0, 17.0, 14.0, 20.0],
    [6.2, 5.1, 5.0, 6.1, 4.7, 3.9, 5.4, 7.3, 9.9, 9.8, 10.2, 11.0, 8.8, 8.0, 8.8, 9.6, 8.4, 10.0, 10.4, 8.0, 7.6, 5.6, 4.4, 5.6, 4.0, 6.4, 5.2, 4.4, 5.6, 7.0, 6.0],
    [6.3, 5.2, 5.1, 6.2, 4.8, 3.9, 5.5, 7.6, 10.2, 10.5, 9.4, 10.5, 11.5, 13.0, 11.5, 14.5, 11.5, 9.2, 10.8, 12.8, 14.4, 17.5, 21.0, 17.0, 19.0, 23.0, 20.0, 24.0, 21.0, 18.0, 21.0],
    [6.1, 5.0, 4.7, 5.8, 4.4, 3.4, 4.9, 6.8, 9.0, 9.0, 8.0, 7.6, 8.0, 6.4, 7.6, 6.8, 9.2, 8.0, 6.8, 8.8, 10.4, 8.4, 10.0, 12.4, 9.6, 11.6, 15.0, 10.4, 12.0, 13.6, 11.0],
    [6.2, 5.1, 5.0, 6.0, 4.6, 3.6, 5.2, 7.0, 9.6, 9.8, 11.2, 12.4, 10.4, 11.2, 13.6, 10.4, 14.0, 12.0, 10.4, 9.6, 11.6, 9.2, 12.0, 14.4, 13.0, 16.0, 14.0, 13.0, 17.0, 15.0, 24.0],
]

# ---------------- T2m ----------------
T2M_CONTROL = [-2.6, -4.2, -5.3, -0.8, -2.0, -1.8, -1.6, 3.5, -1.0, -1.2, 0.3, -1.5, -2.5, -3.0, -3.8, 0.8, 1.5, 2.5, 3.0, 5.8,
               5.0, 6.5, 9.5, 10.5, 8.5, 3.6, 8.0, 12.0, 10.0, 8.5, 8.8, 10.3, 9.0, 8.8, 7.5, 6.5, 3.5, 1.5, -1.3, 2.0,
               3.5, 0.5, 4.0, 6.5, 6.8, 7.5, 10.5, 12.0, 9.5, 5.5, 4.0, 7.5, 6.5, 6.0, 5.5, 8.5, 8.3, 7.5, 7.0, 8.5]
T2M_OPER = [-2.6, -4.2, -5.5, -0.5, -1.0, -1.3, -1.3, 3.8, -2.2, -2.5, 0.5, -1.2, -2.8, -4.0, -3.5, 0.8, 1.2, 2.5, 2.5, 5.8,
            4.5, 7.5, 10.2, 10.5, 10.0, 9.8, 9.7, 12.3, 12.0, 10.0, 9.3, 12.4, 9.5, 6.5, 2.3, 7.0, 3.5, 2.0, 0.3, 1.0]
T2M_MEAN = [-2.6, -4.0, -5.0, -0.8, -1.5, -1.5, -1.5, 3.2, -1.5, -2.0, 0.0, -1.5, -3.0, -3.5, -3.5, 0.8, 1.2, 2.0, 2.5, 5.5,
            4.5, 4.2, 5.0, 7.5, 6.0, 5.5, 5.8, 8.0, 7.5, 6.0, 5.8, 7.5, 6.0, 4.5, 3.0, 4.5, 3.5, 2.5, 1.5, 5.0,
            3.0, 2.0, 2.5, 4.8, 4.2, 3.5, 2.8, 5.2, 4.5, 3.5, 3.2, 6.0, 5.0, 4.0, 3.2, 5.8, 5.0, 4.2, 4.0, 6.3]
T2M_MEMBERS = [
    [-2.4, -4.0, -0.5, -1.2, 3.0, -1.0, -1.2, -3.0, 1.2, 3.0, 6.0, 7.0, 9.0, 7.5, 10.0, 7.0, 9.0, 6.0, 5.0, 3.0, 5.0, 4.0, 7.0, 6.0, 9.0, 5.0, 8.0, 7.0, 10.0, 8.0, 11.0],
    [-2.8, -4.6, -1.2, -2.0, 3.5, -2.0, -1.8, -3.8, 0.5, 2.0, 4.5, 3.5, 6.0, 4.0, 7.5, 5.0, 8.0, 4.5, 6.0, 2.0, 5.5, 1.0, 4.0, 0.5, 3.5, -1.0, 2.5, 1.0, 4.5, 2.0, 6.0],
    [-2.5, -4.3, -0.8, -1.5, 3.0, -1.6, -1.4, -3.5, 1.0, 1.5, 5.0, 2.0, 4.5, 1.0, 5.0, 2.0, 6.0, 3.0, 5.5, 1.0, 4.0, -2.0, 2.0, -4.0, 1.0, -5.0, 0.0, -3.0, 2.5, -1.0, 3.0],
    [-2.6, -3.8, -0.4, -1.0, 3.8, -0.8, -1.0, -2.5, 1.5, 3.5, 7.0, 6.5, 10.5, 9.0, 11.5, 9.0, 10.0, 8.0, 9.0, 7.0, 10.0, 8.5, 11.0, 9.0, 12.0, 10.5, 13.0, 11.0, 13.5, 12.0, 12.5],
    [-2.7, -4.4, -1.0, -1.8, 2.8, -1.8, -2.0, -4.0, 0.2, 1.0, 3.5, 1.0, 3.0, -1.0, 2.5, -2.0, 3.0, -3.0, 1.5, -4.5, 1.0, -6.0, -1.0, -8.0, -2.5, -9.0, -3.0, -7.0, -1.0, -5.0, 0.0],
    [-2.5, -4.1, -0.6, -1.4, 3.4, -1.2, -1.3, -3.0, 1.0, 2.5, 6.5, 5.0, 8.0, 6.0, 9.0, 6.5, 8.5, 5.0, 6.5, 4.0, 7.0, 5.0, 8.5, 6.5, 10.0, 8.0, 9.5, 7.0, 9.0, 6.0, 8.0],
    [-2.6, -4.5, -1.0, -1.9, 3.1, -1.4, -1.7, -3.6, 0.6, 2.0, 5.5, 3.0, 7.0, 4.0, 8.0, 3.5, 6.5, 1.0, 3.0, -1.0, 2.0, -2.5, 3.5, 0.0, 5.0, 1.5, 6.0, 2.0, 7.0, 3.0, 7.5],
    [-2.4, -3.9, -0.6, -1.3, 3.6, -1.1, -1.1, -3.1, 1.4, 3.5, 7.5, 8.0, 10.0, 8.5, 11.0, 8.0, 11.0, 7.5, 8.5, 5.0, 7.0, 3.0, 6.0, 2.0, 5.0, 1.0, 4.5, 0.5, 3.5, -1.0, 2.0],
    [-2.8, -4.8, -1.3, -2.1, 2.6, -2.2, -2.2, -4.2, 0.0, 0.5, 2.5, -0.5, 1.0, -2.5, 0.5, -3.5, -0.5, -5.0, -1.0, -6.5, -2.0, -5.5, -0.5, -4.0, 1.5, -2.0, 3.0, -1.0, 4.0, 0.5, 5.0],
    [-2.5, -4.2, -0.9, -1.6, 3.3, -1.3, -1.4, -3.4, 0.9, 2.8, 6.0, 4.5, 7.5, 5.5, 8.5, 7.0, 9.5, 6.5, 8.0, 6.0, 9.0, 7.0, 9.5, 8.0, 11.0, 9.0, 12.0, 10.0, 14.0, 11.5, 13.0],
    [-2.6, -4.0, -0.7, -1.5, 3.2, -1.5, -1.6, -3.2, 1.1, 2.2, 5.0, 4.0, 6.5, 3.0, 6.0, 2.5, 5.5, 0.5, 4.0, -2.0, 3.5, -3.5, 2.5, -5.5, 1.5, -7.0, 0.5, -8.0, -1.0, -6.0, 0.5],
    [-2.7, -4.3, -0.9, -1.7, 2.9, -1.7, -1.5, -3.7, 0.7, 1.8, 4.0, 2.5, 5.5, 3.5, 7.0, 4.5, 7.5, 4.0, 7.0, 5.0, 8.0, 6.0, 9.0, 7.0, 10.0, 8.5, 10.5, 9.0, 11.5, 9.5, 10.0],
    [-2.5, -4.1, -0.6, -1.3, 3.5, -1.0, -1.2, -2.8, 1.3, 3.2, 7.0, 7.5, 11.5, 9.5, 12.5, 10.0, 11.0, 8.5, 9.5, 6.5, 8.0, 5.5, 7.5, 4.5, 6.5, 3.0, 5.5, 2.5, 6.0, 3.5, 7.0],
    [-2.6, -4.4, -1.1, -1.9, 3.0, -1.9, -1.9, -3.9, 0.4, 1.2, 4.5, 1.5, 5.0, 2.0, 6.5, 3.0, 7.0, 2.0, 4.5, 0.0, 3.0, -1.5, 1.5, -3.0, 0.5, -4.5, -1.5, -6.0, -2.0, -10.0, -3.0],
    [-2.5, -4.2, -0.7, -1.6, 3.3, -1.4, -1.4, -3.3, 0.9, 2.6, 6.2, 5.5, 9.0, 7.0, 10.0, 7.5, 10.5, 6.0, 7.5, 4.5, 6.5, 3.5, 7.0, 5.0, 8.0, 6.0, 9.0, 6.5, 10.0, 7.0, 9.0],
    [-2.7, -4.5, -1.0, -1.8, 3.1, -1.6, -1.8, -3.8, 0.5, 1.5, 5.5, 3.5, 6.0, 2.5, 5.0, 1.0, 4.5, -1.5, 2.0, -3.5, 1.0, -4.0, 0.5, -6.0, -1.0, -8.5, -2.0, -6.5, 0.5, -4.0, 1.5],
    [-2.5, -4.3, -0.8, -1.6, 3.0, -1.5, -1.5, -3.4, 0.8, 2.4, 5.8, 4.8, 8.5, 6.5, 9.5, 6.8, 9.0, 5.5, 7.0, 3.5, 6.0, 2.5, 6.0, 3.5, 7.5, 4.0, 8.0, 4.5, 8.5, 5.0, 9.5],
    [-2.6, -4.1, -0.6, -1.4, 3.4, -1.2, -1.2, -3.1, 1.1, 3.0, 6.8, 6.0, 9.5, 8.0, 10.5, 8.5, 10.0, 7.0, 8.0, 5.5, 8.5, 6.5, 9.0, 7.5, 10.5, 8.0, 11.0, 9.5, 12.0, 10.0, 11.5],
    [-2.7, -4.6, -1.1, -2.0, 2.7, -2.0, -2.0, -4.0, 0.3, 1.0, 3.0, 0.5, 2.5, -1.5, 2.0, -2.5, 2.5, -2.0, 2.5, -3.0, 1.5, -4.5, 0.0, -6.5, -1.5, -7.5, -0.5, -5.0, 1.0, -3.5, 2.0],
    [-2.5, -4.0, -0.5, -1.3, 3.3, -1.1, -1.3, -3.2, 1.0, 2.7, 6.3, 5.2, 8.2, 6.2, 9.2, 7.2, 9.8, 6.8, 8.3, 5.8, 7.8, 4.8, 7.2, 4.2, 8.8, 6.8, 10.3, 7.3, 9.3, 6.3, 8.3],
    [-2.6, -4.4, -0.9, -1.8, 3.0, -1.6, -1.7, -3.6, 0.6, 1.9, 4.8, 3.0, 6.5, 3.5, 6.5, 3.0, 6.0, 2.5, 5.0, 1.5, 4.5, 0.5, 4.5, 1.0, 5.5, 2.0, 6.5, 3.0, 7.5, 3.5, 6.5],
    [-2.4, -3.9, -0.4, -1.1, 3.7, -0.9, -1.0, -2.7, 1.4, 3.4, 7.2, 7.0, 10.8, 8.8, 11.8, 9.5, 12.0, 8.8, 10.5, 7.5, 9.5, 6.8, 9.8, 6.5, 9.0, 5.5, 8.5, 5.0, 7.5, 4.5, 8.0],
    [-2.8, -4.7, -1.2, -2.1, 2.8, -2.1, -2.1, -4.1, 0.1, 0.8, 3.8, 1.8, 4.2, 0.5, 3.8, -0.5, 3.5, -1.0, 3.0, -2.5, 2.5, -3.0, 1.0, -4.5, 0.0, -3.5, 1.5, -2.5, 2.0, -2.0, 3.5],
    [-2.5, -4.2, -0.7, -1.5, 3.2, -1.4, -1.5, -3.3, 0.9, 2.3, 5.3, 4.2, 7.2, 5.2, 8.2, 5.8, 8.8, 5.2, 7.3, 4.8, 7.8, 5.8, 8.3, 6.3, 9.3, 7.3, 10.3, 8.3, 11.3, 8.8, 10.8],
]

# ---------------- Sneeuwval/6 uur ----------------
SNOW_CONTROL = [0, 0, 0, 0, 0, 0, 0, 0, 0, 0, 0, 0, 0, 0, 0, 0, 0, 0, 0, 0,
                0, 0, 0, 0, 0, 0, 0, 0, 0, 0, 0, 0, 0, 0, 0, 0, 0, 0, 0, 0,
                0, 0, 0, 0, 0, 0, 0, 0, 0, 0, 0, 0, 0, 0, 0, 0, 0, 0, 0, 0]
SNOW_OPER = [0, 0, 0, 0, 0, 0, 0, 0, 0, 0, 0.05, 0.1, 0.04, 0, 0, 0, 0, 0, 0, 0,
             0, 0, 0, 0, 0, 0, 0, 0, 0, 0, 0, 0, 0, 0, 0, 0, 0, 0, 0, 0]
SNOW_MEAN = [0, 0, 0, 0, 0, 0, 0.01, 0.02, 0.02, 0.01, 0.01, 0.01, 0.01, 0.01, 0.01, 0.01, 0.02, 0.03, 0.02, 0.01,
             0.01, 0.01, 0.01, 0.01, 0.01, 0.01, 0.01, 0.01, 0.01, 0.01, 0.01, 0.01, 0.01, 0.02, 0.02, 0.03, 0.04, 0.03, 0.03, 0.02,
             0.02, 0.01, 0.01, 0.02, 0.03, 0.04, 0.05, 0.06, 0.05, 0.04, 0.03, 0.03, 0.02, 0.02, 0.02, 0.02, 0.02, 0.03, 0.03, 0.02]
SNOW_MEMBERS = [
    [0, 0, 0, 0, 0.1, 0, 0, 0, 0, 1.0, 0, 0, 0, 0, 0, 0, 0, 0, 0, 0, 0, 0, 0, 0, 0, 0, 0, 0, 0, 0, 0],
    [0, 0, 0, 0, 0.3, 0, 0, 0, 0, 0, 0.3, 0, 0, 0, 0, 0, 0, 0, 1.9, 0.5, 0, 0, 0, 0, 0, 0, 0, 0, 0, 0, 0],
    [0, 0, 0, 0, 0.2, 0, 0, 0, 0, 0, 0, 0, 0, 0, 0, 0, 0, 1.1, 0.3, 0, 1.2, 0, 0, 0, 0, 0, 1.2, 0, 0, 0, 0],
    [0, 0, 0, 0, 0, 0, 0, 0, 0, 0, 0, 0, 0, 0, 0, 0, 0, 0, 0, 0, 0, 0, 0.1, 1.7, 2.3, 0.4, 0, 0.4, 0, 0, 0],
    [0, 0, 0, 0, 0, 0, 0, 0, 0, 0, 0, 0, 0, 0, 0, 0, 0, 0, 0, 0, 0, 0, 0, 0, 0.5, 1.9, 0.3, 0, 0.9, 0, 0],
    [0, 0, 0, 0, 0, 0, 0, 0, 0, 0, 0, 0, 0, 0, 0, 0, 0, 0, 0, 0, 0, 0, 0, 0, 0, 0, 0, 0.2, 0.9, 1.4, 1.0],
    [0, 0, 0, 0, 0, 0, 0, 0, 0.1, 0.2, 0, 0, 0, 0, 0, 0, 0.1, 0, 0, 0, 0.15, 0, 0, 0, 0, 0, 0.4, 0, 0, 0, 0],
    [0, 0, 0, 0.1, 0, 0, 0, 0, 0, 0, 0, 0, 0, 0, 0, 0, 0, 0, 0, 0, 0, 0, 0, 0, 0.2, 0.1, 0, 0.3, 0, 0, 0],
]

PRECIP_LEVELS = [15]
WIND_LEVELS = [10.8, 13.9, 17.2]
GUST_LEVELS = [20, 25]
GUST_WARNING = [28.5]
T2M_ZERO = [0]

GREEN = '#7aae40'
BLUE = '#1a1aff'
RED = '#ff1a1a'
BROWN = '#7a1414'

panels = [
    dict(ytitle='mm', label='Neerslag/6 uur', yrange=[0, 20], dtick=5, control=PRECIP_CONTROL,
         oper=PRECIP_OPER, mean=PRECIP_MEAN, members=PRECIP_MEMBERS,
         lines=[(v, 'black', '1px,2px', 1) for v in PRECIP_LEVELS]),
    dict(ytitle='mm', label='Accum Neerslag', yrange=[0, 70], dtick=10, control=ACCUM_CONTROL,
         oper=ACCUM_OPER, mean=ACCUM_MEAN, members=ACCUM_MEMBERS, lines=[]),
    dict(ytitle='m/s', label='10 m wind', yrange=[0, 20], dtick=2, control=WIND_CONTROL,
         oper=WIND_OPER, mean=WIND_MEAN, members=WIND_MEMBERS,
         lines=[(v, '#333333', '1px,2px', 1) for v in WIND_LEVELS]),
    dict(ytitle='m/s', label='Windstoten', yrange=[0, 45], dtick=5, control=GUST_CONTROL,
         oper=GUST_OPER, mean=GUST_MEAN, members=GUST_MEMBERS,
         lines=[(v, '#333333', '1px,2px', 1) for v in GUST_LEVELS]
         + [(v, '#ff00ff', '5px,3px', 1.5) for v in GUST_WARNING]),
    dict(ytitle='Celsius', label='T2m', yrange=[-15, 20], dtick=5, control=T2M_CONTROL,
         oper=T2M_OPER, mean=T2M_MEAN, members=T2M_MEMBERS,
         lines=[(v, 'black', 'solid', 3.5) for v in T2M_ZERO]),
    dict(ytitle='cm', label='Sneeuwval/6 uur', yrange=[0, 5], dtick=1, control=SNOW_CONTROL,
         oper=SNOW_OPER, mean=SNOW_MEAN, members=SNOW_MEMBERS, lines=[]),
]

X_DOM = [[32.3 / W, 357.7 / W], [420.3 / W, 745.7 / W]]
Y_DOM = [[1 - 155.7 / H, 1 - 18.3 / H], [1 - 339.7 / H, 1 - 202.3 / H], [1 - 523.7 / H, 1 - 386.3 / H]]

fig = go.Figure()
shapes = []
annotations = []
axis_font = dict(family=FONT, size=9.5, color='black')

for p, panel in enumerate(panels, start=1):
    col = (p - 1) % 2
    row = (p - 1) // 2
    xa = 'x' if p == 1 else f'x{p}'
    ya = 'y' if p == 1 else f'y{p}'
    yr = f'y{p + 6}'

    for member in panel['members']:
        fig.add_trace(go.Scatter(x=MEMBER_HOURS, y=member, mode='lines', xaxis=xa, yaxis=ya,
                                 line=dict(color=GREEN, width=1), hoverinfo='skip', showlegend=False))
    fig.add_trace(go.Scatter(x=HOURS, y=panel['mean'], mode='lines', xaxis=xa, yaxis=ya,
                             line=dict(color=BROWN, width=3, dash='dot'), showlegend=False))
    fig.add_trace(go.Scatter(x=HOURS, y=panel['control'], mode='lines', xaxis=xa, yaxis=ya,
                             line=dict(color=BLUE, width=1.6, dash='5px,3px'), showlegend=False))
    fig.add_trace(go.Scatter(x=OPER_HOURS, y=panel['oper'], mode='lines', xaxis=xa, yaxis=ya,
                             line=dict(color=RED, width=1.6), showlegend=False))
    # keeps the mirrored right-hand axis alive
    fig.add_trace(go.Scatter(x=[0], y=[panel['yrange'][0]], mode='markers', xaxis=xa, yaxis=yr,
                             marker=dict(opacity=0), hoverinfo='skip', showlegend=False))

    ycommon = dict(range=panel['yrange'], tickmode='linear', tick0=panel['yrange'][0], dtick=panel['dtick'],
                   showline=True, linecolor='black', linewidth=1, ticks='outside', ticklen=4,
                   tickcolor='black', tickfont=axis_font, showgrid=False, zeroline=False, fixedrange=True)
    fig.update_layout({
        ('xaxis' if p == 1 else f'xaxis{p}'): dict(
            domain=X_DOM[col], anchor=ya, range=[0, 360], tickmode='array', tickvals=DAY_TICKS,
            ticktext=DAY_NAMES, ticks='outside', ticklen=3, tickcolor='black', ticklabelstandoff=-3,
            tickfont=dict(family=FONT, size=8.5, color='black'), showline=True, linecolor='black',
            linewidth=1, showgrid=False, zeroline=False, fixedrange=True,
            minor=dict(tickvals=SIX_HOURLY, ticks='outside', ticklen=3, tickcolor='#999999')),
        ('yaxis' if p == 1 else f'yaxis{p}'): dict(domain=Y_DOM[row], anchor=xa, side='left', **ycommon),
        f'yaxis{p + 6}': dict(overlaying=ya, anchor=xa, side='right', **ycommon),
    })

    for value, color, dash, width in panel['lines']:
        shapes.append(dict(type='line', xref=f'{xa} domain', x0=0, x1=1, yref=ya, y0=value, y1=value,
                           line=dict(color=color, width=width, dash=dash)))

    # legend in the upper left corner
    leg_y = [0.953, 0.892, 0.831]
    shapes.append(dict(type='line', xref=f'{xa} domain', yref=f'{ya} domain', x0=0.008, x1=0.076,
                       y0=leg_y[0], y1=leg_y[0], line=dict(color=BLUE, width=1.6, dash='5px,3px')))
    shapes.append(dict(type='line', xref=f'{xa} domain', yref=f'{ya} domain', x0=0.008, x1=0.076,
                       y0=leg_y[1], y1=leg_y[1], line=dict(color=RED, width=1.6 if p <= 2 else 3)))
    shapes.append(dict(type='line', xref=f'{xa} domain', yref=f'{ya} domain', x0=0.008, x1=0.076,
                       y0=leg_y[2], y1=leg_y[2], line=dict(color=BROWN, width=3, dash='dot')))
    annotations.append(dict(text='<b>Control<br>Oper<br>Ens mn</b>', xref=f'{xa} domain', yref=f'{ya} domain',
                            x=0.147, y=leg_y[1], xanchor='center', yanchor='middle', align='center',
                            showarrow=False, borderpad=0, font=dict(family=FONT, size=6.5, color='#222222')))

    # station and parameter, upper right
    annotations.append(dict(text=f'De Bilt<br>{panel["label"]}', xref=f'{xa} domain', yref=f'{ya} domain',
                            x=0.881, y=0.913, xanchor='center', yanchor='middle', align='center',
                            showarrow=False, borderpad=0, font=dict(family=FONT, size=9.8, color='black')))

    for h in MIDNIGHTS:
        annotations.append(dict(text='00', xref=xa, yref=f'{ya} domain', x=h, y=0, yshift=-4,
                                xanchor='center', yanchor='middle', showarrow=False, borderpad=0,
                                font=dict(family=FONT, size=5.5, color='black')))

    annotations.append(dict(text='<b>Dag</b>', xref=f'{xa} domain', yref=f'{ya} domain', x=0.5, y=0,
                            yshift=-20, xanchor='center', yanchor='middle', showarrow=False, borderpad=0,
                            font=dict(family=FONT, size=11, color='black')))
    annotations.append(dict(text='<b>Bron:  ECMWF/KNMI</b>', xref=f'{xa} domain', yref=f'{ya} domain',
                            x=1.043, y=0, yshift=-19, xanchor='right', yanchor='middle', showarrow=False,
                            borderpad=0, font=dict(family=FONT, size=7, color='#0000ee')))
    annotations.append(dict(text=f'<b>{panel["ytitle"]}</b>', xref=f'{xa} domain', yref=f'{ya} domain',
                            x=0, y=0.5, xshift=-20.5, textangle=-90, xanchor='center', yanchor='middle',
                            showarrow=False, font=dict(family=FONT, size=11.5, color='black')))
    annotations.append(dict(text=f'<b>{TITLE}</b>', xref='paper', yref='paper',
                            x=(col * 388 + 195) / W, y=1 - (row * 184 + 7.5) / H,
                            xanchor='center', yanchor='middle', showarrow=False,
                            font=dict(family=FONT, size=10.5, color='black')))

# panel dividers and page frame
shapes.append(dict(type='line', xref='paper', yref='paper', x0=388.5 / W, x1=388.5 / W, y0=0, y1=1,
                   line=dict(color='#2a2aff', width=1)))
for yy in [184, 368]:
    shapes.append(dict(type='line', xref='paper', yref='paper', x0=0, x1=1, y0=1 - yy / H, y1=1 - yy / H,
                       line=dict(color='#2a2aff', width=1)))
shapes.append(dict(type='line', xref='paper', yref='paper', x0=1 / W, x1=1 / W, y0=0, y1=1,
                   line=dict(color='#a9a9ff', width=3)))
shapes.append(dict(type='line', xref='paper', yref='paper', x0=1 - 1 / W, x1=1 - 1 / W, y0=0, y1=1,
                   line=dict(color='#a9a9ff', width=3)))
shapes.append(dict(type='line', xref='paper', yref='paper', x0=0, x1=1, y0=1 / H, y1=1 / H,
                   line=dict(color='#a9a9ff', width=3)))

fig.update_layout(width=W, height=H, margin=dict(l=0, r=0, t=0, b=0), showlegend=False,
                  paper_bgcolor='white', plot_bgcolor='white', font=dict(family=FONT),
                  shapes=shapes, annotations=annotations)

fig.write_html("out.html", config={'displayModeBar': False},
               post_script="document.body.style.margin = '0';")
